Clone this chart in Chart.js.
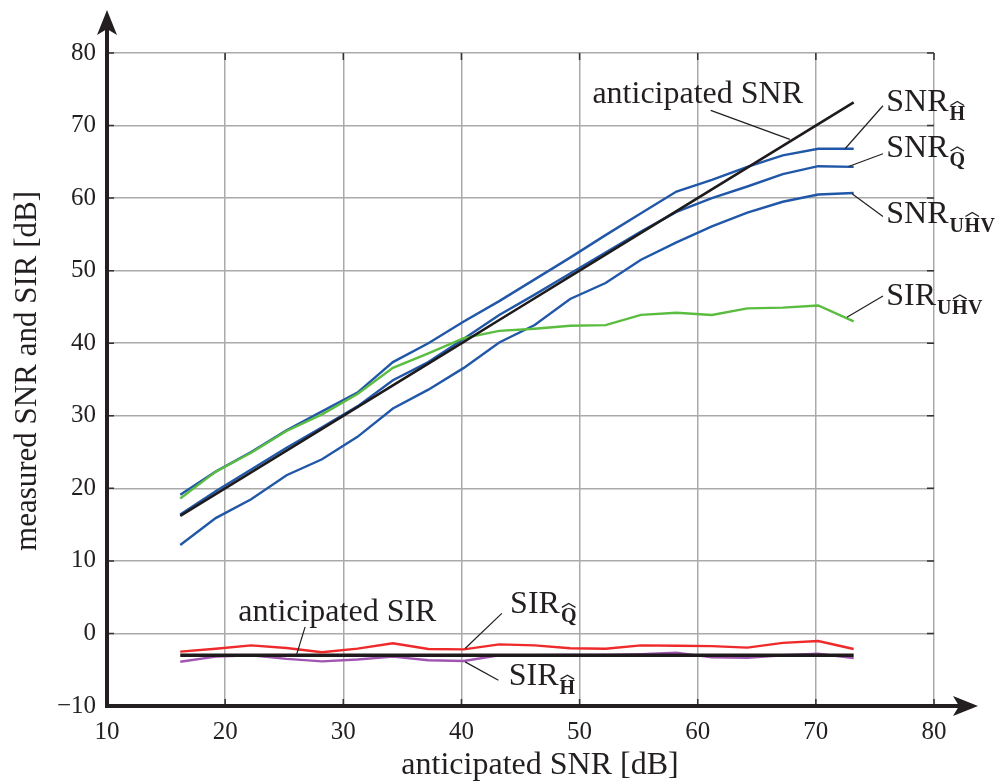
<!DOCTYPE html>
<html>
<head>
<meta charset="utf-8">
<script src="https://cdn.jsdelivr.net/npm/chart.js@4.4.0/dist/chart.umd.min.js"></script>
<style>
  body { margin: 0; background: #fff; }
  #wrap { width: 1007px; height: 784px; }
</style>
</head>
<body>
<div id="wrap"><canvas id="snrChart" width="1007" height="784"></canvas></div>
<script>
// anticipated SNR of the measurement points [dB]
var anticipatedSnr = [16.2, 19.2, 22.2, 25.2, 28.2, 31.2, 34.2, 37.2, 40.2, 43.2,
                      46.2, 49.2, 52.2, 55.2, 58.2, 61.2, 64.2, 67.2, 70.2, 73.2];

// measured values [dB]
var snrH   = [19.1, 22.3, 25.0, 28.0, 30.6, 33.2, 37.4, 40.0, 43.0, 45.8,
              48.8, 51.8, 54.9, 57.9, 60.9, 62.5, 64.3, 65.9, 66.8, 66.8];
var snrQ   = [16.4, 19.6, 22.6, 25.6, 28.4, 31.3, 34.9, 37.4, 40.6, 43.9,
              46.7, 49.6, 52.5, 55.4, 58.1, 60.0, 61.6, 63.3, 64.4, 64.3];
var snrUHV = [12.2, 15.9, 18.5, 21.8, 24.0, 27.1, 31.0, 33.6, 36.6, 40.1,
              42.5, 46.1, 48.3, 51.5, 53.9, 56.1, 58.0, 59.5, 60.5, 60.7];
var sirUHV = [18.6, 22.3, 24.9, 27.9, 30.2, 33.0, 36.6, 38.6, 40.7, 41.7,
              42.0, 42.4, 42.5, 43.9, 44.2, 43.9, 44.8, 44.9, 45.2, 43.0];
var sirQ   = [-2.5, -2.1, -1.65, -2.0, -2.6, -2.1, -1.35, -2.15, -2.2, -1.5,
              -1.65, -2.05, -2.1, -1.65, -1.7, -1.75, -1.95, -1.3, -1.05, -2.15];
var sirH   = [-3.9, -3.2, -3.0, -3.5, -3.85, -3.6, -3.2, -3.7, -3.8, -3.0,
              -3.0, -2.95, -2.95, -2.85, -2.65, -3.3, -3.35, -3.0, -2.8, -3.4];
var anticipatedSir = [-3, -3, -3, -3, -3, -3, -3, -3, -3, -3,
                      -3, -3, -3, -3, -3, -3, -3, -3, -3, -3];

// axis ticks
var xTicks = [10, 20, 30, 40, 50, 60, 70, 80];
var yTicks = [-10, 0, 10, 20, 30, 40, 50, 60, 70, 80];

var textColor = '#231f20';
var serif = '"Liberation Serif", "Times New Roman", serif';

function toPoints(xs, ys) {
  return xs.map(function (x, i) { return { x: x, y: ys[i] }; });
}

// labels with leader lines, placed in data coordinates
var plainNotes = [
  { text: 'anticipated SNR', x: 60.0, y: 73.15, from: [61.1, 72.1], to: [67.8, 68.1] },
  { text: 'anticipated SIR', x: 29.5, y: 1.74, from: [26.77, 0.91], to: [26.06, -2.86] }
];
var subNotes = [
  { main: 'SNR', sub: [{ t: 'H', hat: true }], x: 75.96, y: 71.94, from: [75.68, 72.73], to: [72.49, 66.84] },
  { main: 'SNR', sub: [{ t: 'Q', hat: true }], x: 75.96, y: 65.66, from: [75.68, 66.11], to: [72.77, 64.36] },
  { main: 'SNR', sub: [{ t: 'U' }, { t: 'H', hat: true }, { t: 'V' }], x: 75.96, y: 56.63, from: [75.68, 57.46], to: [73.06, 60.59] },
  { main: 'SIR', sub: [{ t: 'U' }, { t: 'H', hat: true }, { t: 'V' }], x: 75.96, y: 45.28, from: [75.68, 46.52], to: [72.63, 43.59] },
  { main: 'SIR', sub: [{ t: 'Q', hat: true }], x: 44.12, y: 2.76, from: [43.42, 2.76], to: [40.31, -2.07] },
  { main: 'SIR', sub: [{ t: 'H', hat: true }], x: 44.01, y: -7.13, from: [43.13, -6.44], to: [40.31, -3.92] }
];

function drawSubLabel(ctx, note, px, py) {
  ctx.font = '32px ' + serif;
  ctx.textAlign = 'left';
  ctx.textBaseline = 'alphabetic';
  ctx.fillText(note.main, px, py);
  var cx = px + ctx.measureText(note.main).width + 1;
  var sy = py + 9;
  ctx.font = 'bold 20px ' + serif;
  note.sub.forEach(function (p) {
    var w = ctx.measureText(p.t).width;
    ctx.fillText(p.t, cx, sy);
    if (p.hat) {
      var top = sy - 13.5;
      ctx.beginPath();
      ctx.moveTo(cx + 1, top - 1.5);
      ctx.lineTo(cx + w / 2, top - 5.5);
      ctx.lineTo(cx + w - 1, top - 1.5);
      ctx.lineWidth = 1.3;
      ctx.stroke();
    }
    cx += w + 0.5;
  });
}

function arrowHead(ctx, tipX, tipY, dir) {
  // stealth style arrow; dir 'up' or 'right'
  ctx.beginPath();
  if (dir === 'up') {
    ctx.moveTo(tipX, tipY);
    ctx.lineTo(tipX + 10, tipY + 25);
    ctx.lineTo(tipX, tipY + 19);
    ctx.lineTo(tipX - 10, tipY + 25);
  } else {
    ctx.moveTo(tipX, tipY);
    ctx.lineTo(tipX - 25, tipY - 10);
    ctx.lineTo(tipX - 19, tipY);
    ctx.lineTo(tipX - 25, tipY + 10);
  }
  ctx.closePath();
  ctx.fill();
}

var decorPlugin = {
  id: 'decor',
  afterDraw: function (chart) {
    var ctx = chart.ctx;
    var xs = chart.scales.x, ys = chart.scales.y;
    var area = chart.chartArea;
    ctx.save();

    // inner tick marks on all four sides
    ctx.strokeStyle = '#333';
    ctx.lineWidth = 1.5;
    yTicks.forEach(function (v) {
      var py = ys.getPixelForValue(v);
      ctx.beginPath();
      ctx.moveTo(area.left, py); ctx.lineTo(area.left + 7, py);
      ctx.moveTo(area.right, py); ctx.lineTo(area.right - 7, py);
      ctx.stroke();
    });
    xTicks.forEach(function (v) {
      var px = xs.getPixelForValue(v);
      ctx.beginPath();
      ctx.moveTo(px, area.top); ctx.lineTo(px, area.top + 7);
      ctx.moveTo(px, area.bottom); ctx.lineTo(px, area.bottom - 7);
      ctx.stroke();
    });

    // main axes with arrows
    ctx.strokeStyle = '#231f20';
    ctx.fillStyle = '#231f20';
    ctx.lineWidth = 4;
    ctx.beginPath();
    ctx.moveTo(area.left, area.bottom + 2);
    ctx.lineTo(area.left, 25);
    ctx.moveTo(area.left - 2, area.bottom);
    ctx.lineTo(968, area.bottom);
    ctx.stroke();
    arrowHead(ctx, area.left, 10, 'up');
    arrowHead(ctx, 978, area.bottom, 'right');

    // annotations
    ctx.strokeStyle = '#231f20';
    ctx.fillStyle = textColor;
    function leader(n) {
      ctx.beginPath();
      ctx.moveTo(xs.getPixelForValue(n.from[0]), ys.getPixelForValue(n.from[1]));
      ctx.lineTo(xs.getPixelForValue(n.to[0]), ys.getPixelForValue(n.to[1]));
      ctx.lineWidth = 1.2;
      ctx.stroke();
    }
    plainNotes.forEach(function (n) {
      leader(n);
      ctx.font = '32px ' + serif;
      ctx.textAlign = 'center';
      ctx.textBaseline = 'alphabetic';
      ctx.fillText(n.text, xs.getPixelForValue(n.x), ys.getPixelForValue(n.y));
    });
    subNotes.forEach(function (n) {
      leader(n);
      drawSubLabel(ctx, n, xs.getPixelForValue(n.x), ys.getPixelForValue(n.y));
    });

    // axis titles
    ctx.font = '32px ' + serif;
    ctx.textAlign = 'center';
    ctx.textBaseline = 'alphabetic';
    ctx.fillText('anticipated SNR [dB]', 540, 774);
    ctx.font = '31px ' + serif;
    ctx.translate(36, 371);
    ctx.rotate(-Math.PI / 2);
    ctx.fillText('measured SNR and SIR [dB]', 0, 0);
    ctx.restore();
  }
};

function line(label, ys, color, width, order) {
  return {
    label: label,
    data: toPoints(anticipatedSnr, ys),
    borderColor: color,
    backgroundColor: color,
    borderWidth: width,
    pointRadius: 0,
    tension: 0,
    fill: false,
    order: order
  };
}

var chart = new Chart(document.getElementById('snrChart'), {
  type: 'line',
  data: {
    datasets: [
      line('anticipated SNR', anticipatedSnr, '#1f1b1c', 2.6, 1),
      line('SIR UHV', sirUHV, '#5bbd40', 2.4, 2),
      line('SNR H', snrH, '#2157a8', 2.4, 3),
      line('SNR Q', snrQ, '#2157a8', 2.4, 4),
      line('SNR UHV', snrUHV, '#2157a8', 2.4, 5),
      line('SIR Q', sirQ, '#ee2a2a', 2.4, 6),
      line('anticipated SIR', anticipatedSir, '#1f1b1c', 3.6, 7),
      line('SIR H', sirH, '#a055b0', 2.4, 8)
    ]
  },
  options: {
    responsive: false,
    animation: false,
    devicePixelRatio: 1,
    layout: { padding: { top: 53, right: 73, left: 0, bottom: 0 } },
    plugins: { legend: { display: false }, tooltip: { enabled: false } },
    scales: {
      x: {
        type: 'linear',
        min: 10, max: 80,
        afterFit: function (s) { s.height = 78; },
        afterBuildTicks: function (s) { s.ticks = xTicks.map(function (v) { return { value: v }; }); },
        ticks: { color: textColor, font: { family: serif, size: 25 }, padding: 11, maxRotation: 0 },
        grid: { color: '#aaaaaa', lineWidth: 1.5, drawTicks: false },
        border: { display: false }
      },
      y: {
        min: -10, max: 80,
        afterFit: function (s) { s.width = 107; },
        afterBuildTicks: function (s) { s.ticks = yTicks.map(function (v) { return { value: v }; }); },
        ticks: {
          color: textColor, font: { family: serif, size: 25 }, padding: 11,
          callback: function (v) { return v < 0 ? '\u2212' + Math.abs(v) : String(v); }
        },
        grid: { color: '#aaaaaa', lineWidth: 1.5, drawTicks: false },
        border: { display: false }
      }
    }
  },
  plugins: [decorPlugin]
});
</script>
</body>
</html>
